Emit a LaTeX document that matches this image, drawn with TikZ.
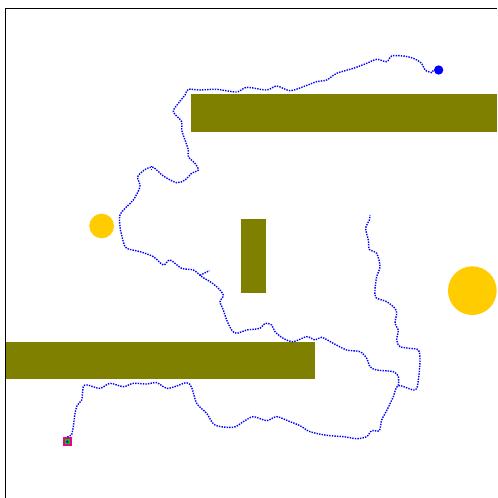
\documentclass[tikz,border=0pt]{standalone}
\begin{document}
\begin{tikzpicture}[x=0.1mm, y=-0.1mm]
% Define styles
\tikzset{
    obstacle/.style={fill={rgb,255:red,128;green,128;blue,0}, draw=none},
    hazard/.style={circle, fill={rgb,255:red,255;green,204;blue,0}, draw=none, inner sep=0pt},
    trail/.style={blue, densely dotted, line width=1.2pt, line join=round},
    goalpt/.style={circle, fill=blue, inner sep=0pt, minimum size=2.8mm},
    startpt/.style={rectangle, fill=green!80!black, draw=magenta, line width=1.6pt, inner sep=0pt, minimum size=2.2mm}
}

% Canvas
\useasboundingbox (0,0) rectangle (1491,1494);
\fill[white] (0,0) rectangle (1491,1494);

% Frame (left and top)
\draw[line width=0.7pt] (15,1494) -- (15,26) -- (1491,26);

% Obstacles
\fill[obstacle] (573,283) rectangle (1491,395);
\fill[obstacle] (723,656) rectangle (797,878);
\fill[obstacle] (18,1027) rectangle (945,1138);

% Circular hazards
\node[hazard, minimum size=7.4mm] (smallhazard) at (305,678) {};
\node[hazard, minimum size=14.6mm] (bighazard) at (1417,872) {};

% Start and goal
\node[startpt] (start) at (202,1325) {};
\fill[blue] (start.center) circle (0.4mm);
\node[goalpt] (goal) at (1316,210) {};

% Explored trail: start to the far right loop
\draw[trail] (start.north) -- plot[smooth] coordinates {
    (215,1305) (220,1280) (225,1240) (232,1215) (245,1200) (250,1160) (262,1155)
    (300,1165) (330,1150) (370,1160) (400,1150) (440,1152) (470,1148) (500,1165)
    (530,1158) (560,1148) (575,1162) (590,1210) (620,1240) (645,1275) (700,1282)
    (730,1265) (760,1250) (800,1262) (830,1250) (870,1265) (900,1277) (930,1295)
    (980,1306) (1030,1310) (1070,1316) (1100,1310) (1115,1292) (1138,1292)
    (1145,1260) (1162,1228) (1180,1190) (1195,1157) (1245,1170) (1255,1140)
    (1260,1080) (1255,1050) (1230,1045) (1200,1040) (1190,1020) (1195,990)
    (1185,970) (1190,940) (1185,925) (1160,905) (1128,893) (1125,870) (1130,830)
    (1140,800) (1130,760) (1108,748) (1105,720) (1097,685) (1108,660) (1110,645)};

% Explored trail: branch towards the goal
\draw[trail] plot[smooth] coordinates {
    (1195,1157) (1195,1130) (1180,1115) (1130,1110) (1110,1100) (1100,1075)
    (1080,1055) (1040,1050) (1000,1030) (965,1012) (945,1020) (920,1010)
    (880,1025) (850,1015) (825,995) (815,975) (795,970) (780,985) (740,990)
    (710,1000) (695,990) (680,960) (670,930) (660,905) (670,885) (650,860)
    (630,845) (605,830) (580,810) (545,805) (510,780) (490,795) (460,770)
    (420,755) (380,745) (370,725) (360,680) (360,645) (380,620) (400,600)
    (420,560) (413,530) (438,507) (460,502) (490,528) (530,548) (555,540)
    (575,520) (595,510) (585,490) (565,470) (565,450) (555,420) (545,390)
    (545,365) (520,335) (535,310) (555,285) (565,268) (600,270) (650,268)
    (710,276) (740,262) (800,270) (830,258) (870,272) (910,260) (950,245)
    (980,240) (1010,220) (1060,205) (1100,190) (1130,178) (1160,185) (1175,168)
    (1210,168) (1240,175) (1265,190) (1275,210) (1295,218)} -- (goal.west);

% Short spurs
\draw[trail] (600,826) -- (628,812);
\draw[trail] (455,510) -- (455,495);

\end{tikzpicture}
\end{document}
